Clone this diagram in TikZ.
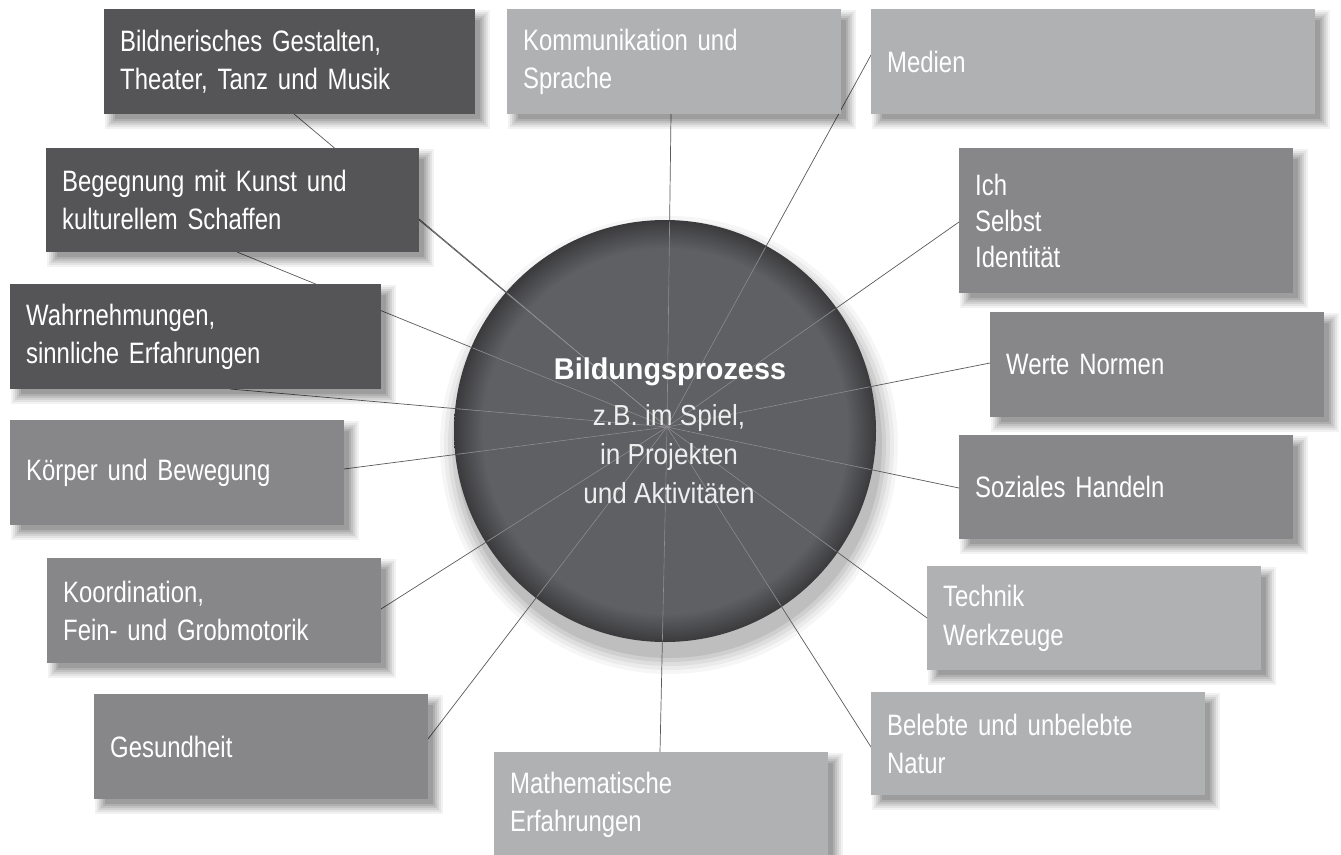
\documentclass[tikz,border=0pt]{standalone}
\usepackage{fontspec}
\setmainfont{Liberation Sans}[FakeStretch=0.81]
\newfontfamily\cfont{Liberation Sans}[FakeStretch=0.9]
\newfontfamily\cbold{Liberation Sans Bold}[FakeStretch=0.96]
\usetikzlibrary{calc}
\definecolor{dkbox}{HTML}{555557}
\definecolor{mdbox}{HTML}{87878A}
\definecolor{ltbox}{HTML}{B0B1B3}
\definecolor{discin}{HTML}{5F6064}
\definecolor{discrim}{HTML}{3A3A3C}
\definecolor{linkout}{HTML}{5A5A5C}
\definecolor{linkin}{HTML}{8E8E91}
\definecolor{csub}{HTML}{EEEEEE}
\pgfdeclareradialshading{discshade}{\pgfpointorigin}{color(0bp)=(discin); color(21.6bp)=(discin); color(24.2bp)=(discrim!75!discin); color(25bp)=(discrim); color(50bp)=(discrim)}
\tikzset{
  boxsty/.style={rectangle, anchor=north west, inner xsep=16pt, inner ysep=0pt,
    align=left, text=white, font=\fontsize{29.5}{38.5}\selectfont},
  linkdark/.style={draw=linkout, line width=0.7pt},
  linklight/.style={draw=linkin, line width=0.6pt},
  centre/.style={anchor=base, font=\cfont\fontsize{29}{34}\selectfont, text=csub}
}
% name, x, y, w, h, colour, text
\newcommand\labelbox[8][]{%
  \foreach \a/\b/\o in {1/15/0.05,3/13/0.06,5/11/0.07,7/9/0.08,9/7/0.09,11/5/0.10}{%
    \fill[black,opacity=\o] ({#3+\a},{#4+\a}) rectangle ({#3+#5+\b},{#4+#6+\b});}
  \pgfmathsetmacro\tw{#5-32}%
  \node[boxsty, fill=#7, minimum width=#5, minimum height=#6, text width=\tw pt, #1] (#2) at (#3,#4) {#8};
}
\begin{document}
\begin{tikzpicture}[x=1pt,y=-1pt]
\clip (0,0) rectangle (1341,854);
\fill[white] (0,0) rectangle (1341,854);
% disc shadow and disc
\foreach \e/\o in {18/0.035,14/0.045,10/0.055,6/0.065,2/0.08}{%
  \fill[black,opacity=\o] (669,445) circle ({211+\e});}
\node[circle, minimum size=422, inner sep=0pt, shade, shading=discshade] (disc) at (665,431) {};
% hub and connector ends
\coordinate (hub) at (667,427);
\coordinate (e1) at (294,114);
\coordinate (e2) at (671,114);
\coordinate (e3) at (871,55);
\coordinate (e4) at (419,220);
\coordinate (e5) at (237,252);
\coordinate (e6) at (959,222);
\coordinate (e7) at (230,389);
\coordinate (e8) at (990,363);
\coordinate (e9) at (344,469);
\coordinate (e10) at (959,488);
\coordinate (e11) at (381,609);
\coordinate (e12) at (927,618);
\coordinate (e13) at (428,739);
\coordinate (e14) at (871,747);
\coordinate (e15) at (660,752);
\foreach \t in {e1,e2,e3,e4,e5,e6,e7,e8,e9,e10,e11,e12,e13,e14,e15}{
  \draw[linkdark] (hub) -- (\t);}
\begin{scope}
  \clip (665,431) circle (209);
  \foreach \t in {e1,e2,e3,e4,e5,e6,e7,e8,e9,e10,e11,e12,e13,e14,e15}{
    \draw[linklight] (hub) -- (\t);}
\end{scope}
% centre text
\node[centre, font=\cbold\fontsize{30}{36}\selectfont, text=white] (ctitle) at (670,379) {Bildungsprozess};
\node[centre] (cline1) at (669,425) {z.B. im Spiel,};
\node[centre] (cline2) at (669,464) {in Projekten};
\node[centre] (cline3) at (669,503) {und Aktivitäten};
% boxes
\labelbox{b1}{104}{9}{371}{105}{dkbox}{Bildnerisches Gestalten,\\Theater, Tanz und Musik}
\labelbox{b2}{507}{9}{334}{105}{ltbox}{Kommunikation und\\Sprache}
\labelbox{b3}{871}{9}{444}{105}{ltbox}{Medien}
\labelbox{b4}{46}{148}{373}{104}{dkbox}{Begegnung mit Kunst und\\kulturellem Schaffen}
\labelbox[font=\fontsize{29.5}{36}\selectfont]{b5}{959}{148}{334}{145}{mdbox}{Ich\\Selbst\\Identität}
\labelbox{b6}{10}{284}{371}{105}{dkbox}{Wahrnehmungen,\\sinnliche Erfahrungen}
\labelbox{b7}{990}{312}{334}{105}{mdbox}{Werte Normen}
\labelbox{b8}{10}{420}{334}{105}{mdbox}{Körper und Bewegung}
\labelbox{b9}{959}{435}{334}{104}{mdbox}{Soziales Handeln}
\labelbox{b10}{47}{558}{334}{105}{mdbox}{Koordination,\\Fein- und Grobmotorik}
\labelbox{b11}{927}{566}{334}{104}{ltbox}{Technik\\Werkzeuge}
\labelbox{b12}{94}{694}{334}{105}{mdbox}{Gesundheit}
\labelbox{b13}{871}{692}{334}{103}{ltbox}{Belebte und unbelebte\\Natur}
\labelbox{b14}{494}{752}{334}{105}{ltbox}{Mathematische\\Erfahrungen}
\end{tikzpicture}
\end{document}
